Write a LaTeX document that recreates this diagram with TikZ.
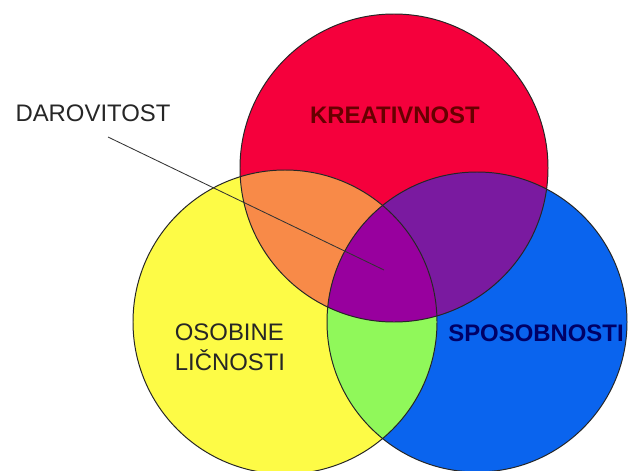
\documentclass[tikz,border=0pt]{standalone}
\usepackage{fontspec}
\setmainfont{Liberation Sans}
\usetikzlibrary{positioning}
\definecolor{kreared}{HTML}{F5003C}
\definecolor{osoyellow}{HTML}{FDFB46}
\definecolor{sposblue}{HTML}{0A64EE}
\definecolor{mixorange}{HTML}{F88A48}
\definecolor{mixpurple}{HTML}{7A1AA0}
\definecolor{mixgreen}{HTML}{90F85A}
\definecolor{coremagenta}{HTML}{98009E}

\begin{document}
\begin{tikzpicture}[
    x=0.025cm, y=0.025cm,
    ring/.style={draw=black!85, line width=0.7pt},
    label/.style={font=\fontsize{17}{21}\selectfont, inner sep=0pt, align=left}
]
\useasboundingbox (0,0) rectangle (630,470);
\fill[white] (0,0) rectangle (630,470);

% circle centres
\coordinate (kre) at (394,302);
\coordinate (oso) at (285,148);
\coordinate (spo) at (477,148);

% plain regions
\fill[kreared] (kre) circle (154);
\fill[osoyellow] (oso) circle (152);
\fill[sposblue] (spo) circle (150);

% pairwise overlaps
\begin{scope}
  \clip (kre) circle (154);
  \fill[mixorange] (oso) circle (152);
\end{scope}
\begin{scope}
  \clip (kre) circle (154);
  \fill[mixpurple] (spo) circle (150);
\end{scope}
\begin{scope}
  \clip (oso) circle (152);
  \fill[mixgreen] (spo) circle (150);
\end{scope}
% common part
\begin{scope}
  \clip (kre) circle (154);
  \clip (oso) circle (152);
  \fill[coremagenta] (spo) circle (150);
\end{scope}

% outlines
\draw[ring] (kre) circle (154);
\draw[ring] (oso) circle (152);
\draw[ring] (spo) circle (150);

% labels
\node[label, text=black!85] (darov) at (93,357) {DAROVITOST};
\node[label, font=\fontsize{17}{21}\selectfont\bfseries, text=red!40!black] (kreat) at (395,355) {KREATIVNOST};
\node[label, text=black!85] (osob) at (230,123) {OSOBINE\\LIČNOSTI};
\node[label, font=\fontsize{17}{21}\selectfont\bfseries, text=blue!40!black] (sposob) at (536,137) {SPOSOBNOSTI};

% pointer into the common part
\coordinate (tail) at (108,333);
\coordinate (core) at (384,200);
\draw[black!80, line width=0.6pt] (tail) -- (core);

\end{tikzpicture}
\end{document}
